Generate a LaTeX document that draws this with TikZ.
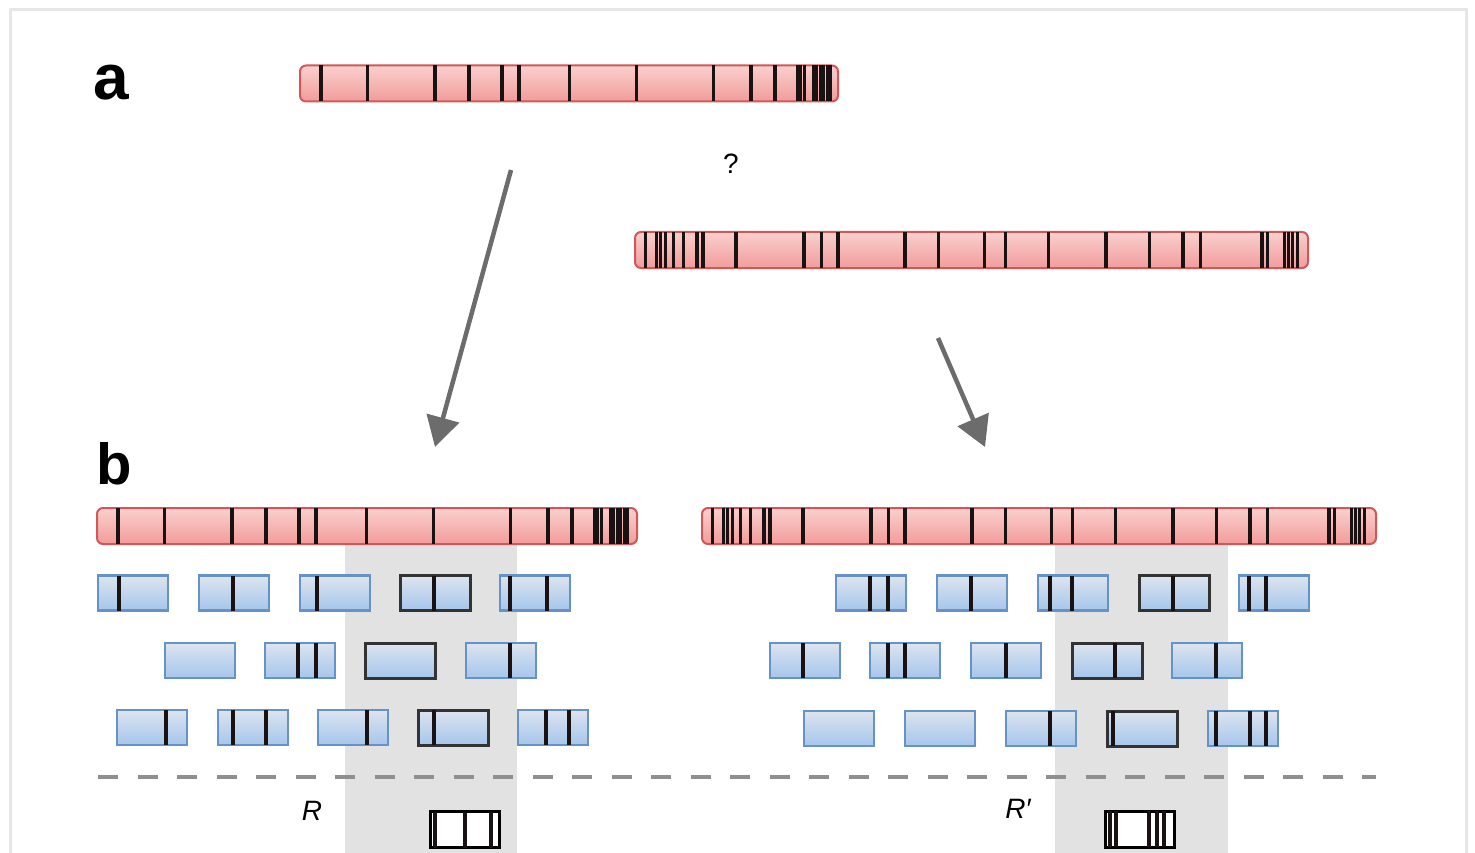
\documentclass[tikz,border=0pt]{standalone}
\usepackage{fontspec}
\setmainfont{Liberation Sans}
\usetikzlibrary{arrows.meta,shadings}

\definecolor{chromtop}{HTML}{F9D0CE}
\definecolor{chrombot}{HTML}{F29C9A}
\definecolor{chromline}{HTML}{D05858}
\definecolor{readtop}{HTML}{DDE4EF}
\definecolor{readbot}{HTML}{A5C6EC}
\definecolor{readline}{HTML}{6692C6}
\definecolor{keyline}{HTML}{333333}
\definecolor{bandcol}{HTML}{1A1212}
\definecolor{shadecol}{HTML}{E2E2E2}
\definecolor{dashcol}{HTML}{8F8F8F}
\definecolor{arrowgray}{HTML}{6C6C6C}
\definecolor{framecol}{HTML}{E6E6E6}

\tikzset{
  chrom/.style={draw=chromline, line width=2pt, rounded corners=6pt,
    top color=chromtop, bottom color=chrombot, minimum height=36pt,
    inner sep=0pt, outer sep=0pt, anchor=west},
  band/.style={draw=bandcol, line width=3.6pt},
  fineband/.style={draw=bandcol, line width=3pt},
  readbox/.style={draw=readline, line width=2.4pt, top color=readtop,
    bottom color=readbot, minimum width=70pt, minimum height=35pt,
    inner sep=0pt, outer sep=0pt, anchor=west},
  keybox/.style={readbox, draw=keyline, line width=3pt},
  consbox/.style={draw=black, line width=3pt, fill=white,
    minimum width=69pt, minimum height=36pt, inner sep=0pt, outer sep=0pt,
    anchor=west},
  flow/.style={draw=arrowgray, line width=4.5pt,
    -{Triangle[width=33pt,length=30pt]}},
  panel/.style={font=\bfseries, anchor=base, inner sep=0pt},
  region/.style={font=\itshape\fontsize{28}{30}\selectfont, anchor=base, inner sep=0pt},
}

% bands of a chromosome, given as offsets from its left end
\newcommand\chrombands[3]{%
  \foreach \off in #3 {\draw[#2] ([xshift=\off pt]#1.north west) -- ([xshift=\off pt]#1.south west);}}
% bands of a read, given as absolute x positions
\newcommand\readbands[2]{%
  \foreach \bx in {#2} {\draw[band] (\bx,0 |- #1.north) -- (\bx,0 |- #1.south);}}

% band offsets: isolated bands and the dense clusters near the ends
\def\bandsA{21,67.5,135,169,202,219,269.5,336.5,413.5,451,475}
\def\denseA{497,500.5,504,513,516.5,520,523.5,527,530.5}
\def\bandsB{62.2,67.8,100.8,169,186.6,202.7,270.2,303.3,349.5,370.4,413.3,471.2,514.6,548.1,565.3,627,632.5}
\def\denseB{10.5,21,25.6,30.2,38.2,48,649,653.4,657.8,662.2}

\begin{document}
\begin{tikzpicture}[x=1pt,y=-1pt]
\useasboundingbox (0,0) rectangle (1475,853);
\clip (0,0) rectangle (1475,853);

% outer frame
\draw[framecol, line width=3pt] (10,870) -- (10,10) -- (1466,10) -- (1466,870);

% shaded windows R and R'
\fill[shadecol] (345,544) rectangle (517,860);
\fill[shadecol] (1055,544) rectangle (1228,860);

% panel a
\node[panel, font=\bfseries\fontsize{64}{64}\selectfont] (la) at (111,100) {a};
\node[chrom, minimum width=538pt] (ca) at (300,83.5) {};
\chrombands{ca}{band}{\bandsA}
\chrombands{ca}{fineband}{\denseA}
\node[anchor=base, inner sep=0pt, font=\fontsize{28}{28}\selectfont] (q) at (731,174) {?};
\node[chrom, minimum width=673pt] (cb) at (635,250) {};
\chrombands{cb}{band}{\bandsB}
\chrombands{cb}{fineband}{\denseB}

% arrows to panel b
\coordinate (s1) at (511,170);
\coordinate (t1) at (435,447);
\coordinate (s2) at (938,338);
\coordinate (t2) at (985,447);
\draw[flow] (s1) -- (t1);
\draw[flow] (s2) -- (t2);

% panel b
\node[panel, font=\bfseries\fontsize{58}{58}\selectfont] (lb) at (114,484) {b};
\node[chrom, minimum width=540pt] (cl) at (97,526) {};
\chrombands{cl}{band}{\bandsA}
\chrombands{cl}{fineband}{\denseA}
\node[chrom, minimum width=674pt] (cr) at (702,526) {};
\chrombands{cr}{band}{\bandsB}
\chrombands{cr}{fineband}{\denseB}

% reads under the left chromosome
\node[readbox] (l11) at (98,593) {};   \readbands{l11}{119}
\node[readbox] (l12) at (199,593) {};  \readbands{l12}{233}
\node[readbox] (l13) at (300,593) {};  \readbands{l13}{317}
\node[keybox]  (l14) at (400,593) {};  \readbands{l14}{434}
\node[readbox] (l15) at (500,593) {};  \readbands{l15}{510,547}

\node[readbox] (l21) at (165,660.5) {};
\node[readbox] (l22) at (265,660.5) {};  \readbands{l22}{298,316}
\node[keybox]  (l23) at (365,660.5) {};
\node[readbox] (l24) at (466,660.5) {};  \readbands{l24}{510}

\node[readbox] (l31) at (117,727.5) {};  \readbands{l31}{166}
\node[readbox] (l32) at (218,727.5) {};  \readbands{l32}{233,266}
\node[readbox] (l33) at (318,727.5) {};  \readbands{l33}{367}
\node[keybox]  (l34) at (418,727.5) {};  \readbands{l34}{434}
\node[readbox] (l35) at (518,727.5) {};  \readbands{l35}{546,569}

% reads under the right chromosome
\node[readbox] (r11) at (836,593) {};   \readbands{r11}{870,888}
\node[readbox] (r12) at (937,593) {};   \readbands{r12}{971}
\node[readbox] (r13) at (1038,593) {};  \readbands{r13}{1050,1072}
\node[keybox]  (r14) at (1139,593) {};  \readbands{r14}{1173}
\node[readbox] (r15) at (1239,593) {};  \readbands{r15}{1249,1266}

\node[readbox] (r21) at (770,660.5) {};   \readbands{r21}{803}
\node[readbox] (r22) at (870,660.5) {};   \readbands{r22}{888,905}
\node[readbox] (r23) at (971,660.5) {};   \readbands{r23}{1006}
\node[keybox]  (r24) at (1072,660.5) {};  \readbands{r24}{1115}
\node[readbox] (r25) at (1172,660.5) {};  \readbands{r25}{1216}

\node[readbox] (r31) at (804,728.5) {};
\node[readbox] (r32) at (905,728.5) {};
\node[readbox] (r33) at (1006,728.5) {};  \readbands{r33}{1050}
\node[keybox]  (r34) at (1107,728.5) {};  \readbands{r34}{1113}
\node[readbox] (r35) at (1208,728.5) {};  \readbands{r35}{1216,1250,1266}

% separator
\coordinate (d1) at (98,777);
\coordinate (d2) at (1376,777);
\draw[dashcol, line width=3.5pt, dash pattern=on 20pt off 19.5pt] (d1) -- (d2);

% consensus of each window
\node[region] (lr) at (312,820) {R};
\node[region] (lr2) at (1018,818) {R′};
\node[consbox] (k1) at (430,829.5) {};  \readbands{k1}{435,465,491}
\node[consbox] (k2) at (1105,829) {};   \readbands{k2}{1110,1116,1149,1157,1164}
\end{tikzpicture}
\end{document}
